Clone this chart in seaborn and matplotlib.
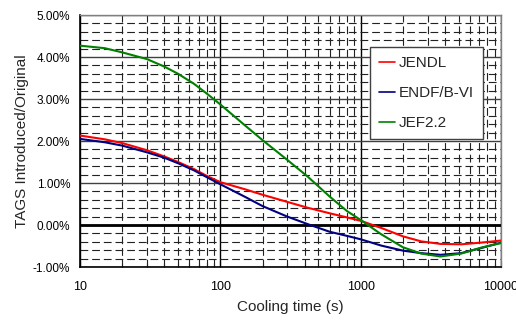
import numpy as np
import pandas as pd
import matplotlib
matplotlib.use("Agg")
import matplotlib.pyplot as plt
import seaborn as sns
from matplotlib.ticker import FixedLocator, FuncFormatter, NullFormatter, LogLocator

# ---- data ----
cooling_time = [10, 15, 20, 30, 40, 50, 65, 80, 100, 150, 200, 300, 420, 600, 800, 1000,
                1400, 2000, 2700, 3700, 5200, 7200, 10000]
jendl = [2.13, 2.04, 1.95, 1.78, 1.63, 1.50, 1.33, 1.17, 1.02, 0.85, 0.72, 0.55, 0.41, 0.28, 0.18, 0.10,
         -0.07, -0.27, -0.39, -0.45, -0.46, -0.42, -0.37]
endf = [2.05, 1.97, 1.89, 1.73, 1.60, 1.47, 1.30, 1.14, 0.97, 0.67, 0.45, 0.20, 0.02, -0.16, -0.26, -0.34,
        -0.49, -0.61, -0.67, -0.71, -0.67, -0.55, -0.42]
jef = [4.27, 4.21, 4.11, 3.95, 3.77, 3.60, 3.36, 3.13, 2.87, 2.37, 2.02, 1.55, 1.15, 0.68, 0.33, 0.12,
       -0.22, -0.53, -0.68, -0.75, -0.68, -0.54, -0.43]
series_names = ["JENDL", "ENDF/B-VI", "JEF2.2"]
series_colors = ["#ff0000", "#000080", "#008000"]
x_ticks = [10, 100, 1000, 10000]
y_ticks = [-1, 0, 1, 2, 3, 4, 5]

df = pd.DataFrame({
    "t": cooling_time * 3,
    "v": jendl + endf + jef,
    "series": [series_names[0]] * len(cooling_time)
              + [series_names[1]] * len(cooling_time)
              + [series_names[2]] * len(cooling_time),
})

sns.set_style("white")
plt.rcParams["font.family"] = ["Liberation Sans", "DejaVu Sans"]

fig = plt.figure(figsize=(5.16, 3.22), dpi=100)
ax = fig.add_axes([80 / 516, 55 / 322, 421 / 516, 252 / 322])

sns.lineplot(data=df, x="t", y="v", hue="series", hue_order=series_names,
             palette=series_colors, linewidth=1.5, ax=ax, zorder=5, legend=True)

ax.set_xscale("log")
ax.set_xlim(10, 10000)
ax.set_ylim(-1, 5)

ax.xaxis.set_major_locator(FixedLocator(x_ticks))
ax.xaxis.set_major_formatter(FuncFormatter(lambda v, p: f"{int(round(v))}"))
ax.xaxis.set_minor_locator(LogLocator(base=10, subs=np.arange(2, 10)))
ax.xaxis.set_minor_formatter(NullFormatter())
ax.yaxis.set_major_locator(FixedLocator(y_ticks))
ax.yaxis.set_minor_locator(FixedLocator(np.round(np.arange(-1, 5.01, 0.2), 2)))
ax.yaxis.set_major_formatter(FuncFormatter(lambda v, p: f"{v:.2f}%"))

# grids
dash = (0, (7, 3.5))
ax.grid(which="major", axis="y", color="#404040", linewidth=1.0, linestyle="-")
ax.grid(which="major", axis="x", color="#000000", linewidth=1.0, linestyle="-")
ax.grid(which="minor", axis="both", color="#222222", linewidth=0.8, linestyle=dash)
ax.axhline(0, color="black", linewidth=2.0, zorder=3)
ax.set_axisbelow(True)

ax.tick_params(axis="y", which="both", length=0, pad=7, labelsize=8.5, colors="black")
ax.tick_params(axis="x", which="major", direction="in", length=4, width=0.8,
               pad=10, labelsize=9, colors="black", bottom=True)
ax.tick_params(axis="x", which="minor", direction="in", length=3, width=0.8, bottom=True)

for side in ["left", "bottom"]:
    ax.spines[side].set_color("black")
    ax.spines[side].set_linewidth(1.2)
for side in ["top", "right"]:
    ax.spines[side].set_color("#808080")
    ax.spines[side].set_linewidth(1.0)

ax.set_xlabel("Cooling time (s)", fontsize=11, labelpad=5)
ax.set_ylabel("TAGS Introduced/Original", fontsize=11, labelpad=3)

handles, labels = ax.get_legend_handles_labels()
leg = ax.legend(handles, labels, loc="upper left", bbox_to_anchor=(0.689, 0.874),
                frameon=True, fancybox=False, fontsize=11, labelspacing=1.05,
                handlelength=1.0, handletextpad=0.25, borderpad=0.6, borderaxespad=0)
leg.get_frame().set_edgecolor("#404040")
leg.get_frame().set_linewidth(1.0)
leg.get_frame().set_facecolor("white")
leg.get_frame().set_alpha(1)
leg.set_zorder(10)
for line in leg.get_lines():
    line.set_linewidth(1.2)

fig.savefig("out.png", dpi=100)
